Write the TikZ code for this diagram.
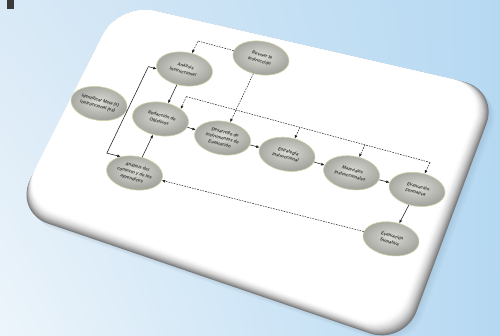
\documentclass[tikz,border=0pt]{standalone}
\usepackage{fontspec}
\setsansfont{Liberation Sans}
\usetikzlibrary{arrows.meta,shapes.geometric,shadings}
\definecolor{bgUL}{HTML}{D9E9F6}
\definecolor{bgUR}{HTML}{B6D9F2}
\definecolor{bgLL}{HTML}{EDF5FB}
\definecolor{bgLR}{HTML}{B5D8F2}
\definecolor{barc}{HTML}{3A3A3A}
\definecolor{elIn}{HTML}{DCDCD6}
\definecolor{elOut}{HTML}{A4A49E}
\definecolor{edgec}{HTML}{D2D0A6}
\definecolor{txtc}{HTML}{3A3A3A}
\definecolor{linec}{HTML}{1E1E1E}
\tikzset{
  proc/.style={ellipse, minimum width=54pt, minimum height=31pt, inner sep=0pt,
    draw=edgec, line width=0.6pt, inner color=elIn, outer color=elOut},
  lbl/.style={font=\sffamily\bfseries\fontsize{4.2}{5.8}\selectfont, text=txtc, align=center, inner sep=0pt},
  conn/.style={draw=linec, line width=0.55pt},
  arr/.style={conn, -{Latex[length=3.3pt,width=2.9pt]}},
  dsh/.style={draw=linec, line width=0.5pt, dash pattern=on 1.6pt off 1.1pt},
  dar/.style={dsh, -{Latex[length=3.3pt,width=2.9pt]}},
  card/.style={rounded corners=36pt}
}
\begin{document}
\begin{tikzpicture}[x=1pt,y=-1pt]
\useasboundingbox (0,0) rectangle (500,335);
\shade[upper left=bgUL,upper right=bgUR,lower left=bgLL,lower right=bgLR] (0,0) rectangle (500,335);
\fill[barc] (7,0) rectangle (14,9);
% soft shadow
\foreach \s in {1,...,6}{
  \fill[bgLR!60!black, opacity=0.03, card] (300+\s,44.4+\s) -- (499+\s,90+\s) -- (404+\s,345+\s) -- (14+\s,212+\s) -- (119+\s,3+\s) -- cycle;
}
% card body with thick lower/right side
\foreach \t in {0,...,14}{
  \pgfmathtruncatemacro\c{round(52*(1-\t/14)*(1-\t/14))}
  \fill[black!\c, card] (300,44.4) -- (499-1.0*\t,90-0.23*\t) -- (404-0.85*\t,345-1.05*\t) -- (14+0.45*\t,212-0.95*\t) -- (119,3) -- cycle;
}
\begin{scope}[x=1pt,y=-1pt,cm={1,-0.27,0.48,1,(160.5pt,-119pt)},every node/.style={transform shape}]
  \node[proc,label={[lbl]center:Identificar Meta (s)\\Instruccional (es)}] (idm) at (-61,1) {};
  \node[proc,label={[lbl]center:Análisis\\Instruccional}] (ai) at (0,-50) {};
  \node[proc,label={[lbl]center:Revisar la\\Instrucción}] (rv) at (63,-78) {};
  \node[proc,label={[lbl]center:Redacción de\\Objetivos}] (rd) at (0,0) {};
  \node[proc,label={[lbl]center:Desarrollo de\\Instrumentos de\\Evaluación}] (de) at (63,2) {};
  \node[proc,label={[lbl]center:Estrategia\\Instruccional}] (es) at (127,1) {};
  \node[proc,label={[lbl]center:Materiales\\Instruccionales}] (ma) at (192,2) {};
  \node[proc,label={[lbl]center:Evaluación\\Formativa}] (ef) at (257,1) {};
  \node[proc,label={[lbl]center:Evaluación\\Sumativa}] (su) at (255,51) {};
  \node[proc,label={[lbl]center:Análisis del\\contexto y de los\\aprendices}] (ctx) at (0,54) {};

  \coordinate (jn) at (-33,1);
  \coordinate (jt) at (-33,-43.5);
  \coordinate (jb) at (-33,43);
  \coordinate (rc) at (0,-78);
  \coordinate (f0) at (13.4,-26);
  \coordinate (f2) at (127,-26);
  \coordinate (f3) at (192,-26);
  \coordinate (f4) at (257,-26);

  \draw[conn] (idm.east) -- (jn);
  \draw[arr] (jn) -- (jt) -- (ai.195);
  \draw[arr] (jn) -- (jb) -- (ctx.150);
  \draw[arr] (ai) -- (rd);
  \draw[arr] (ctx) -- (rd);
  \draw[arr] (rd) -- (de);
  \draw[arr] (de) -- (es);
  \draw[arr] (es) -- (ma);
  \draw[arr] (ma) -- (ef);
  \draw[arr] (ef) -- (su);

  \draw[dar] (rv.west) -- (rc) -- (ai.north);
  \draw[dar] (rv.south) -- (de.north);
  \draw[dsh] (f0) -- (f4);
  \draw[dar] (f0) -- (rd.45);
  \draw[dar] (f2) -- (es.north);
  \draw[dar] (f3) -- (ma.north);
  \draw[dar] (f4) -- (ef.north);
  \draw[dar] (su.west) -- (ctx.east);
\end{scope}
\end{tikzpicture}
\end{document}
